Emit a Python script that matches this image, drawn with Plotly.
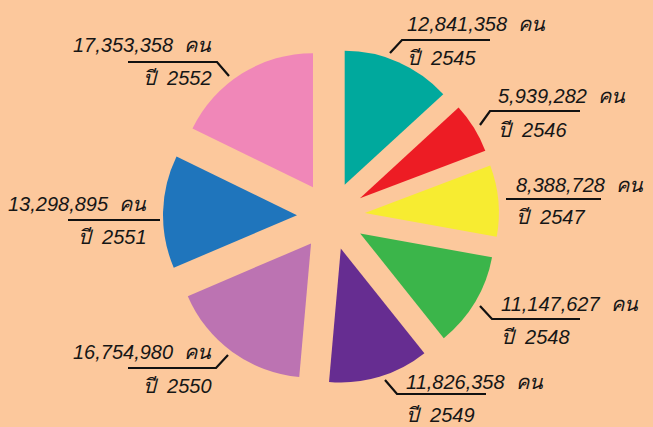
import plotly.graph_objects as go

# ---- data ----
years = ["2545", "2546", "2547", "2548", "2549", "2550", "2551", "2552"]
people = [12841358, 5939282, 8388728, 11147627, 11826358, 16754980, 13298895, 17353358]
colors = ["#00A99D", "#ED1C24", "#F7EC31", "#3BB54A", "#662D91", "#BC73B2", "#1F75BC", "#F087B8"]

W, H = 653, 427
BG = "#FCC89C"

# ---- label layout (pixels): value text anchor, year text anchor, side, leader polyline ----
label_layout = [
    dict(side="left", vx=405, vy=24, yx=405, yy=58, line=[(390, 53), (402, 40), (490, 40)]),
    dict(side="left", vx=496, vy=96, yx=496, yy=130, line=[(480, 125), (490, 111), (580, 111)]),
    dict(side="left", vx=514, vy=185, yx=514, yy=217, line=[(506, 199), (601, 199)]),
    dict(side="left", vx=499, vy=304, yx=499, yy=337, line=[(480, 306), (492, 319), (580, 319)]),
    dict(side="left", vx=404, vy=382, yx=404, yy=415, line=[(385, 380), (397, 394), (486, 394)]),
    dict(side="right", vx=214, vy=352, yx=214, yy=386, line=[(128, 368), (216, 368), (228, 355)]),
    dict(side="right", vx=149, vy=204, yx=149, yy=237, line=[(68, 220), (160, 220)]),
    dict(side="right", vx=214, vy=45, yx=214, yy=78, line=[(128, 62), (217, 62), (229, 76)]),
]


def px(x):
    return x / W


def py(y):
    return 1 - y / H


# pie geometry: centre (331, 216), slice radius ~134 px, pull ~34 px
cx, cy, r, pull_px = 331, 216, 134, 34
half = r + pull_px

fig = go.Figure(
    go.Pie(
        values=people,
        labels=years,
        marker=dict(colors=colors, line=dict(width=0)),
        sort=False,
        direction="clockwise",
        rotation=0,
        pull=[pull_px / r] * len(people),
        textinfo="none",
        hoverinfo="skip",
        showlegend=False,
        domain=dict(x=[px(cx - half), px(cx + half)], y=[py(cy + half), py(cy - half)]),
    )
)

font = dict(family="Liberation Sans, Arial, sans-serif", size=20, color="#161616", style="italic")
annotations = []
shapes = []
NB = "\u00a0"
for yr, val, lay in zip(years, people, label_layout):
    anchor = lay["side"]
    annotations.append(dict(
        x=px(lay["vx"]), y=py(lay["vy"]), xref="paper", yref="paper",
        text=f"{val:,}{NB}{NB}คน", showarrow=False, xanchor=anchor, yanchor="middle",
        font=font,
    ))
    annotations.append(dict(
        x=px(lay["yx"]), y=py(lay["yy"]), xref="paper", yref="paper",
        text=f"ปี{NB}{NB}{yr}", showarrow=False, xanchor=anchor, yanchor="middle",
        font=font,
    ))
    pts = lay["line"]
    path = "M " + " L ".join(f"{px(x)},{py(y)}" for x, y in pts)
    shapes.append(dict(type="path", xref="paper", yref="paper", path=path,
                       line=dict(color="#111111", width=2.2)))

fig.update_layout(
    width=W, height=H, autosize=False,
    margin=dict(l=0, r=0, t=0, b=0),
    paper_bgcolor=BG, plot_bgcolor=BG,
    annotations=annotations, shapes=shapes,
)

fig.write_html("out.html")
